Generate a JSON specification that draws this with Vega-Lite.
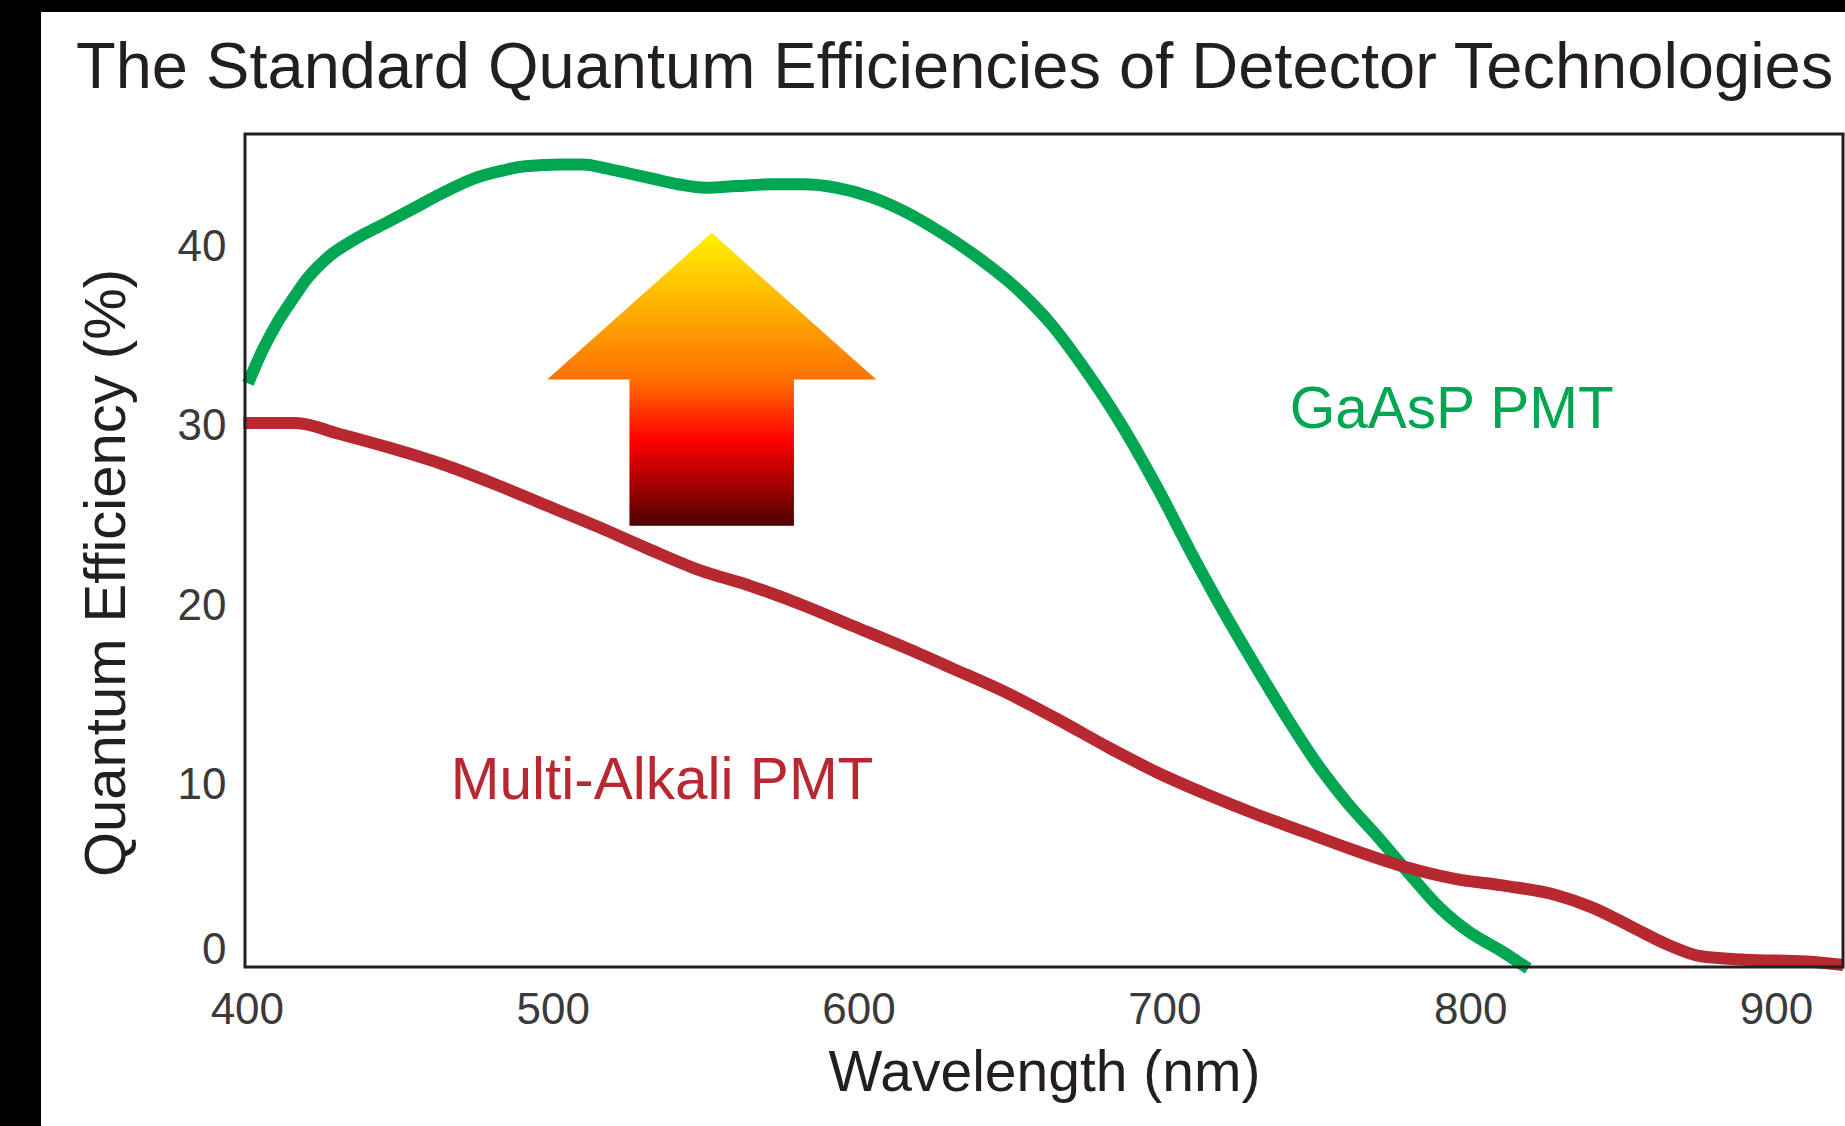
{
  "$schema": "https://vega.github.io/schema/vega-lite/v6.json",
  "width": 1598,
  "height": 833,
  "autosize": {"type": "none"},
  "padding": {"left": 245, "top": 134, "right": 2, "bottom": 159},
  "background": "#ffffff",
  "config": {"font": "Liberation Sans", "view": {"stroke": null}},
  "title": {
    "text": "The Standard Quantum Efficiencies of Detector Technologies",
    "anchor": "start",
    "frame": "group",
    "font": "Liberation Sans",
    "fontSize": 65,
    "fontWeight": "normal",
    "color": "#231f20",
    "baseline": "alphabetic",
    "offset": -153,
    "dx": -169,
    "zindex": 1
  },
  "datasets": {
    "curves": [
      {"series": "GaAsP PMT", "wavelength": 400.4, "qe": 32.3},
      {"series": "GaAsP PMT", "wavelength": 405, "qe": 34.1},
      {"series": "GaAsP PMT", "wavelength": 410, "qe": 35.7},
      {"series": "GaAsP PMT", "wavelength": 415, "qe": 37.0},
      {"series": "GaAsP PMT", "wavelength": 420, "qe": 38.2},
      {"series": "GaAsP PMT", "wavelength": 427, "qe": 39.4},
      {"series": "GaAsP PMT", "wavelength": 435, "qe": 40.3},
      {"series": "GaAsP PMT", "wavelength": 445, "qe": 41.2},
      {"series": "GaAsP PMT", "wavelength": 455, "qe": 42.1},
      {"series": "GaAsP PMT", "wavelength": 465, "qe": 43.0},
      {"series": "GaAsP PMT", "wavelength": 474, "qe": 43.7},
      {"series": "GaAsP PMT", "wavelength": 482, "qe": 44.1},
      {"series": "GaAsP PMT", "wavelength": 491, "qe": 44.4},
      {"series": "GaAsP PMT", "wavelength": 503, "qe": 44.5},
      {"series": "GaAsP PMT", "wavelength": 510, "qe": 44.5},
      {"series": "GaAsP PMT", "wavelength": 517, "qe": 44.3},
      {"series": "GaAsP PMT", "wavelength": 525, "qe": 44.0},
      {"series": "GaAsP PMT", "wavelength": 533, "qe": 43.7},
      {"series": "GaAsP PMT", "wavelength": 541, "qe": 43.4},
      {"series": "GaAsP PMT", "wavelength": 550, "qe": 43.2},
      {"series": "GaAsP PMT", "wavelength": 560, "qe": 43.3},
      {"series": "GaAsP PMT", "wavelength": 572, "qe": 43.4},
      {"series": "GaAsP PMT", "wavelength": 582, "qe": 43.4},
      {"series": "GaAsP PMT", "wavelength": 593, "qe": 43.2},
      {"series": "GaAsP PMT", "wavelength": 604, "qe": 42.7},
      {"series": "GaAsP PMT", "wavelength": 616, "qe": 41.8},
      {"series": "GaAsP PMT", "wavelength": 628, "qe": 40.6},
      {"series": "GaAsP PMT", "wavelength": 640, "qe": 39.2},
      {"series": "GaAsP PMT", "wavelength": 651, "qe": 37.7},
      {"series": "GaAsP PMT", "wavelength": 663, "qe": 35.6},
      {"series": "GaAsP PMT", "wavelength": 674, "qe": 33.1},
      {"series": "GaAsP PMT", "wavelength": 686, "qe": 30.0},
      {"series": "GaAsP PMT", "wavelength": 698, "qe": 26.4},
      {"series": "GaAsP PMT", "wavelength": 709, "qe": 22.8},
      {"series": "GaAsP PMT", "wavelength": 720, "qe": 19.4},
      {"series": "GaAsP PMT", "wavelength": 730, "qe": 16.5},
      {"series": "GaAsP PMT", "wavelength": 740, "qe": 13.7},
      {"series": "GaAsP PMT", "wavelength": 750, "qe": 11.1},
      {"series": "GaAsP PMT", "wavelength": 760, "qe": 8.9},
      {"series": "GaAsP PMT", "wavelength": 770, "qe": 7.0},
      {"series": "GaAsP PMT", "wavelength": 780, "qe": 5.0},
      {"series": "GaAsP PMT", "wavelength": 790, "qe": 3.1},
      {"series": "GaAsP PMT", "wavelength": 800, "qe": 1.7},
      {"series": "GaAsP PMT", "wavelength": 810, "qe": 0.7},
      {"series": "GaAsP PMT", "wavelength": 819, "qe": -0.3},
      {"series": "Multi-Alkali PMT", "wavelength": 398.9, "qe": 30.1},
      {"series": "Multi-Alkali PMT", "wavelength": 416, "qe": 30.1},
      {"series": "Multi-Alkali PMT", "wavelength": 430, "qe": 29.5},
      {"series": "Multi-Alkali PMT", "wavelength": 447, "qe": 28.7},
      {"series": "Multi-Alkali PMT", "wavelength": 464, "qe": 27.8},
      {"series": "Multi-Alkali PMT", "wavelength": 481, "qe": 26.7},
      {"series": "Multi-Alkali PMT", "wavelength": 498, "qe": 25.5},
      {"series": "Multi-Alkali PMT", "wavelength": 515, "qe": 24.3},
      {"series": "Multi-Alkali PMT", "wavelength": 531, "qe": 23.1},
      {"series": "Multi-Alkali PMT", "wavelength": 548, "qe": 21.9},
      {"series": "Multi-Alkali PMT", "wavelength": 565, "qe": 21.0},
      {"series": "Multi-Alkali PMT", "wavelength": 581, "qe": 20.0},
      {"series": "Multi-Alkali PMT", "wavelength": 598, "qe": 18.8},
      {"series": "Multi-Alkali PMT", "wavelength": 615, "qe": 17.6},
      {"series": "Multi-Alkali PMT", "wavelength": 631, "qe": 16.4},
      {"series": "Multi-Alkali PMT", "wavelength": 648, "qe": 15.1},
      {"series": "Multi-Alkali PMT", "wavelength": 665, "qe": 13.6},
      {"series": "Multi-Alkali PMT", "wavelength": 682, "qe": 12.0},
      {"series": "Multi-Alkali PMT", "wavelength": 698, "qe": 10.6},
      {"series": "Multi-Alkali PMT", "wavelength": 714, "qe": 9.4},
      {"series": "Multi-Alkali PMT", "wavelength": 730, "qe": 8.3},
      {"series": "Multi-Alkali PMT", "wavelength": 746, "qe": 7.3},
      {"series": "Multi-Alkali PMT", "wavelength": 762, "qe": 6.3},
      {"series": "Multi-Alkali PMT", "wavelength": 778, "qe": 5.4},
      {"series": "Multi-Alkali PMT", "wavelength": 795, "qe": 4.7},
      {"series": "Multi-Alkali PMT", "wavelength": 812, "qe": 4.3},
      {"series": "Multi-Alkali PMT", "wavelength": 828, "qe": 3.8},
      {"series": "Multi-Alkali PMT", "wavelength": 840, "qe": 3.1},
      {"series": "Multi-Alkali PMT", "wavelength": 852, "qe": 2.1},
      {"series": "Multi-Alkali PMT", "wavelength": 865, "qe": 1.0},
      {"series": "Multi-Alkali PMT", "wavelength": 875, "qe": 0.4},
      {"series": "Multi-Alkali PMT", "wavelength": 890, "qe": 0.2},
      {"series": "Multi-Alkali PMT", "wavelength": 910, "qe": 0.1},
      {"series": "Multi-Alkali PMT", "wavelength": 922, "qe": -0.1}
    ],
    "labels": [
      {"series": "GaAsP PMT", "wavelength": 741, "qe": 29.8},
      {"series": "Multi-Alkali PMT", "wavelength": 466.7, "qe": 9.15}
    ],
    "arrow": [
      {"wavelength": 552.0, "qe": 32.52}
    ]
  },
  "layer": [
    {
      "data": {"values": [{}]},
      "mark": {"type": "rect", "fill": "#000000", "strokeWidth": 0, "clip": false},
      "encoding": {
        "x": {
          "datum": 300, "type": "quantitative",
          "scale": {"domain": [399.4, 921.9], "zero": false, "nice": false},
          "axis": {
            "title": "Wavelength (nm)",
            "values": [400, 500, 600, 700, 800, 900],
            "format": "d",
            "domain": false, "ticks": false, "grid": false,
            "labelFontSize": 44, "labelColor": "#3a3a3a", "labelPadding": 21,
            "labelBaseline": "top", "labelFlush": false, "labelOverlap": false,
            "titleFontSize": 57, "titleFontWeight": "normal", "titleColor": "#231f20",
            "titleBaseline": "alphabetic", "titleAlign": "center", "titleX": 799, "titleY": 123,
            "zindex": 1
          }
        },
        "x2": {"datum": 332.7},
        "y": {
          "datum": 53.664, "type": "quantitative",
          "scale": {"domain": [-0.21, 46.2], "zero": false, "nice": false},
          "axis": {
            "title": "Quantum Efficiency (%)",
            "values": [0, 10, 20, 30, 40],
            "format": "d",
            "domain": false, "ticks": false, "grid": false,
            "labelFontSize": 44, "labelColor": "#3a3a3a", "labelPadding": 19,
            "labelBaseline": "middle", "labelFlush": false, "labelOverlap": false,
            "labelOffset": {"condition": {"test": "datum.value === 0", "value": -13}, "value": 2},
            "titleFontSize": 58, "titleFontWeight": "normal", "titleColor": "#231f20",
            "titleAngle": -90, "titleBaseline": "alphabetic", "titleAlign": "center",
            "titleX": -121, "titleY": 438.5,
            "zindex": 1
          }
        },
        "y2": {"datum": -20}
      }
    },
    {
      "data": {"values": [{}]},
      "mark": {"type": "rect", "fill": "#000000", "strokeWidth": 0, "clip": false},
      "encoding": {
        "x": {"datum": 300, "type": "quantitative"},
        "x2": {"datum": 1000},
        "y": {"datum": 53.664, "type": "quantitative"},
        "y2": {"datum": 53.0}
      }
    },
    {
      "data": {"name": "arrow"},
      "mark": {
        "type": "point",
        "shape": "M0,-0.892L1,0L0.5,0L0.5,0.889L-0.5,0.889L-0.5,0L-1,0Z",
        "size": 108241,
        "filled": true,
        "opacity": 1,
        "fillOpacity": 1,
        "strokeWidth": 0,
        "fill": {
          "gradient": "linear",
          "x1": 0, "y1": 0, "x2": 0, "y2": 1,
          "stops": [
            {"offset": 0, "color": "#fff200"},
            {"offset": 0.5, "color": "#ff7000"},
            {"offset": 0.71, "color": "#ff0000"},
            {"offset": 1, "color": "#4d0000"}
          ]
        }
      },
      "encoding": {
        "x": {"field": "wavelength", "type": "quantitative"},
        "y": {"field": "qe", "type": "quantitative"}
      }
    },
    {
      "data": {"name": "curves"},
      "mark": {"type": "line", "interpolate": "monotone", "strokeWidth": 12, "strokeCap": "butt", "strokeJoin": "round", "clip": false},
      "encoding": {
        "x": {"field": "wavelength", "type": "quantitative"},
        "y": {"field": "qe", "type": "quantitative"},
        "color": {
          "field": "series", "type": "nominal",
          "scale": {"domain": ["GaAsP PMT", "Multi-Alkali PMT"], "range": ["#00a651", "#b72830"]},
          "legend": null
        }
      }
    },
    {
      "data": {"name": "labels"},
      "mark": {"type": "text", "align": "left", "baseline": "alphabetic", "fontSize": 58.5, "font": "Liberation Sans"},
      "encoding": {
        "x": {"field": "wavelength", "type": "quantitative"},
        "y": {"field": "qe", "type": "quantitative"},
        "text": {"field": "series", "type": "nominal"},
        "color": {
          "field": "series", "type": "nominal",
          "scale": {"domain": ["GaAsP PMT", "Multi-Alkali PMT"], "range": ["#00a651", "#b72830"]},
          "legend": null
        }
      }
    },
    {
      "data": {"values": [{}]},
      "mark": {"type": "rect", "filled": false, "stroke": "#231f20", "strokeWidth": 3, "opacity": 1, "clip": false},
      "encoding": {
        "x": {"datum": 399.4, "type": "quantitative"},
        "x2": {"datum": 921.9},
        "y": {"datum": -0.21, "type": "quantitative"},
        "y2": {"datum": 46.2}
      }
    }
  ]
}
